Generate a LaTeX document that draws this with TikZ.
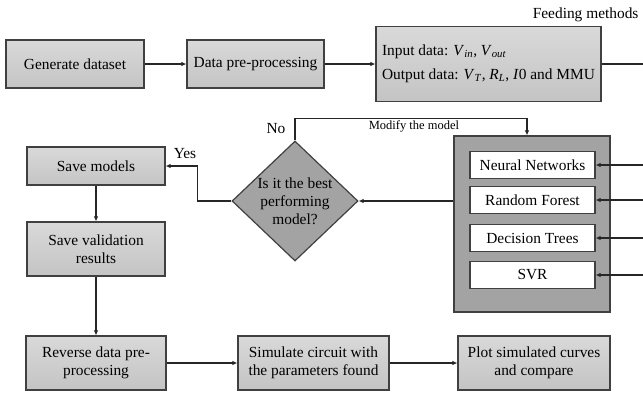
\documentclass[tikz,border=0pt]{standalone}
\usepackage{fontspec}
\setmainfont{Liberation Serif}
\usetikzlibrary{arrows.meta,shapes.geometric}
\newcommand{\mvar}[2]{\textit{#1}\textsubscript{\textit{#2}}}
\definecolor{edge}{HTML}{404040}
\definecolor{boxtop}{HTML}{D9D9D9}
\definecolor{boxbot}{HTML}{C4C4C4}
\definecolor{darkfill}{HTML}{A3A3A3}
\begin{document}
\begin{tikzpicture}[x=1pt,y=-1pt,
  every node/.style={font=\fontsize{15.4}{18}\selectfont},
  graybox/.style={draw=edge,line width=1.2pt,top color=boxtop,bottom color=boxbot,
    inner sep=0pt,align=center},
  whitebox/.style={draw=edge,line width=1.2pt,fill=white,inner sep=0pt,
    minimum width=125pt,minimum height=27pt},
  container/.style={draw=edge,line width=1.2pt,fill=darkfill,inner sep=0pt},
  decision/.style={diamond,draw=edge,line width=1.2pt,fill=darkfill,inner sep=0pt},
  arr/.style={line width=1.3pt,draw=black!85,-{Latex[length=5pt,width=4.5pt]}},
  ln/.style={line width=1.3pt,draw=black!85},
  small/.style={font=\fontsize{12.5}{14}\selectfont}]
\useasboundingbox (0,0) rectangle (643,397);

% top row
\node[graybox,minimum width=138pt,minimum height=48pt] (gen) at (75,64) {Generate dataset};
\node[graybox,minimum width=137pt,minimum height=48pt] (pre) at (255.5,64) {Data pre-processing};
\node[graybox,minimum width=225pt,minimum height=75pt,align=left] (inp) at (488.5,64)
  {Input data: \mvar{V}{in}, \mvar{V}{out}\\[6pt]Output data: \mvar{V}{T}, \mvar{R}{L}, \textit{I}0 and MMU};
\node[anchor=east] (feed) at (642,15) {Feeding methods};
\coordinate (feedend) at (643,64);

% models container
\node[container,minimum width=156pt,minimum height=176pt] (cont) at (532,224) {};
\node[whitebox] (nn) at (532.5,165) {Neural Networks};
\node[whitebox] (rf) at (532.5,200) {Random Forest};
\node[whitebox] (dt) at (532.5,238) {Decision Trees};
\node[whitebox] (svr) at (532.5,275) {SVR};
\coordinate (enn) at (643,165);
\coordinate (erf) at (643,200);
\coordinate (edt) at (643,238);
\coordinate (esvr) at (643,275);

% decision
\node[decision,minimum width=126pt,minimum height=120pt] (dec) at (295,201) {};
\node[align=center] (dectext) at (295,201) {Is it the best\\performing\\model?};

% left column
\node[graybox,minimum width=138pt,minimum height=38pt] (save) at (96,166) {Save models};
\node[graybox,minimum width=138pt,minimum height=54pt] (val) at (96,249) {Save validation\\results};

% bottom row
\node[graybox,minimum width=140pt,minimum height=54pt] (rev) at (96,363) {Reverse data pre-\\processing};
\node[graybox,minimum width=151pt,minimum height=54pt] (sim) at (313.5,363) {Simulate circuit with\\the parameters found};
\node[graybox,minimum width=152pt,minimum height=54pt] (plot) at (534,363) {Plot simulated curves\\and compare};

% labels
\node (no) at (276,129) {No};
\node (yes) at (185,154) {Yes};
\node[small] (modify) at (414,126) {Modify the model};

% connectors
\draw[arr] (gen.east) -- (pre.west);
\draw[arr] (pre.east) -- (inp.west);
\draw[ln] (inp.east |- feedend) -- (feedend);
\draw[arr] (enn) -- (nn.east);
\draw[arr] (erf) -- (rf.east);
\draw[arr] (edt) -- (dt.east);
\draw[arr] (esvr) -- (svr.east);
\draw[arr] (cont.west |- dec.east) -- (dec.east);
\draw[arr] (dec.north) -- ++(0,-22) -| ([xshift=-5pt]cont.north);
\draw[arr] (dec.west) -- ++(-34,0) |- (save.east);
\draw[arr] (save.south) -- (val.north);
\draw[arr] (val.south) -- (rev.north);
\draw[arr] (rev.east) -- (sim.west);
\draw[arr] (sim.east) -- (plot.west);
\end{tikzpicture}
\end{document}
